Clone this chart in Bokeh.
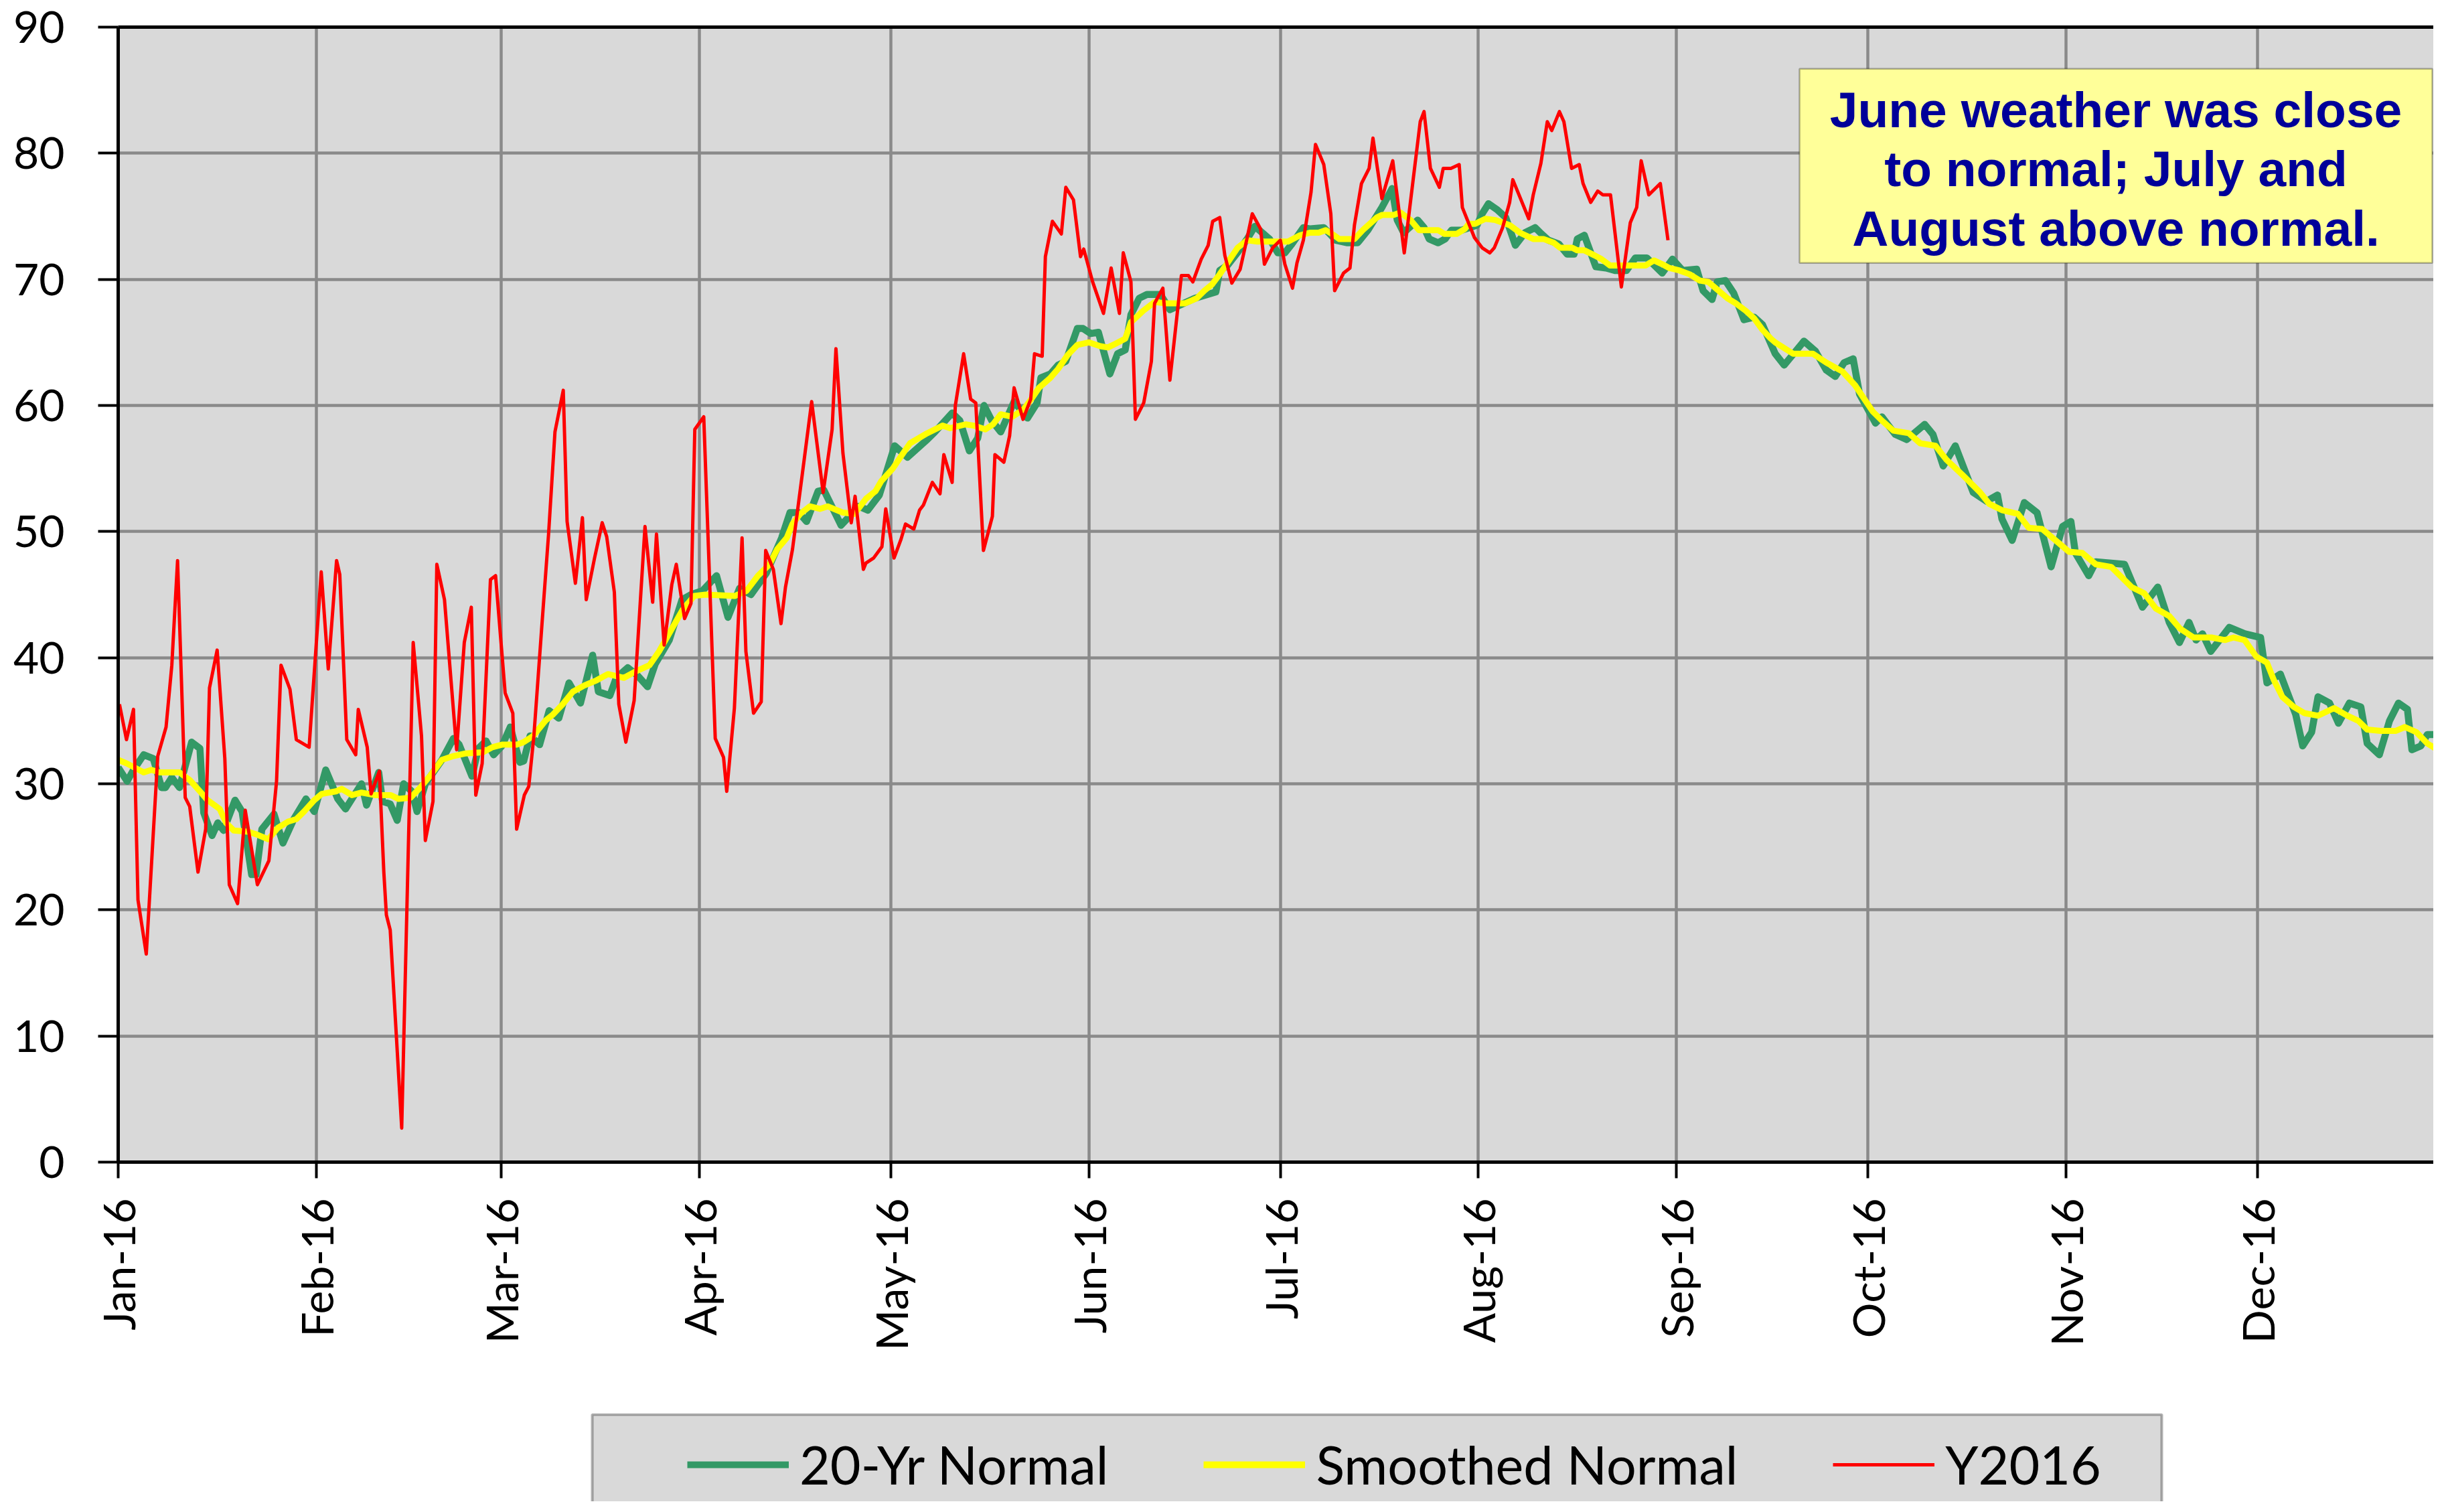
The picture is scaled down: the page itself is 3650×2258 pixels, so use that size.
import math
from bokeh.plotting import figure
from bokeh.layouts import column
from bokeh.models import (Range1d, FixedTicker, LinearAxis, Legend, LegendItem,
                          BoxAnnotation, Label, ColumnDataSource)
from bokeh.embed import file_html
from bokeh.resources import INLINE

# ---------------- data (day of year 2016, 0 = Jan 1) ----------------
month_days = [0, 31, 60, 91, 121, 152, 182, 213, 244, 274, 305, 335]
month_labels = ["Jan-16", "Feb-16", "Mar-16", "Apr-16", "May-16", "Jun-16",
                "Jul-16", "Aug-16", "Sep-16", "Oct-16", "Nov-16", "Dec-16"]
y_ticks = [0, 10, 20, 30, 40, 50, 60, 70, 80, 90]
series_names = ["20-Yr Normal", "Smoothed Normal", "Y2016"]

normal_day = [0, 1.4, 2.4, 4.0, 5.5, 6.8, 7.4, 8.4, 9.6, 11.5, 12.8, 13.4, 14.7, 15.6, 16.5,
              18.3, 19.4, 20.9, 21.6, 22.5, 24.4, 25.8, 27.5, 29.4, 30.7, 32.5, 34.4, 35.6,
              38.1, 38.9, 40.8, 41.4, 42.6, 43.7, 44.7, 46.0, 46.8, 48.1, 50.7, 52.5, 53.4,
              55.4, 56.4, 57.6, 58.8, 60.1, 61.4, 62.9, 63.5, 64.5, 66.0, 67.5, 69.0, 70.6,
              72.4, 74.3, 75.2, 77.0, 78.0, 79.8, 81.3, 82.9, 84.1, 86.3, 88.3, 89.7, 91.5,
              93.7, 95.5, 97.3, 99.1, 101.5, 103.9, 105.2, 106.6, 107.8, 109.6, 110.5, 113.2,
              116.0, 117.4, 119.2, 121.6, 123.6, 126.7, 127.9, 130.6, 131.8, 133.3, 134.6,
              135.6, 136.8, 138.2, 140.3, 142.4, 143.9, 144.5, 146.0, 147.2, 148.4, 150.2,
              151.1, 152.3, 153.5, 155.3, 156.5, 157.7, 158.6, 159.9, 161.1, 163.2, 164.7,
              168.6, 171.9, 172.5, 173.7, 175.4, 176.8, 178.0, 180.3, 181.6, 182.7, 183.8,
              185.6, 186.7, 188.8, 190.7, 192.5, 194.1, 195.7, 197.9, 199.5, 200.3, 201.3,
              203.5, 204.5, 205.3, 206.7, 207.8, 208.8, 210.4, 212.8, 213.6, 214.6, 216.0,
              217.3, 218.8, 220.3, 221.9, 222.9, 224.0, 225.6, 226.9, 228.0, 228.5, 229.6,
              231.4, 233.0, 234.4, 236.2, 237.6, 239.4, 241.8, 243.4, 245.0, 247.2, 248.2,
              249.6, 250.4, 251.7, 253.0, 254.6, 256.2, 257.5, 259.5, 260.9, 264.0, 265.8,
              267.5, 268.9, 270.3, 271.7, 272.7, 275.2, 276.2, 278.3, 280.1, 282.9, 284.2,
              285.8, 287.7, 290.5, 292.6, 294.3, 295.0, 296.6, 298.5, 300.5, 302.7, 304.5,
              305.8, 306.5, 308.6, 309.7, 314.2, 317.0, 319.4, 321.2, 322.8, 324.3, 325.4,
              326.4, 327.7, 330.6, 333.0, 335.5, 336.5, 338.6, 341.0, 342.1, 343.5, 344.5,
              346.3, 347.7, 349.4, 351.2, 352.2, 354.1, 355.7, 357.1, 358.5, 359.2, 360.6,
              361.6, 363.2]
normal_val = [31.3, 30.2, 31.1, 32.3, 32.0, 29.7, 29.7, 30.5, 29.7, 33.3, 32.8, 27.7, 25.9, 26.9,
              26.3, 28.7, 27.8, 22.8, 22.8, 26.4, 27.6, 25.3, 27.2, 28.8, 27.8, 31.1, 28.8,
              28.0, 30.0, 28.3, 30.9, 28.6, 28.4, 27.1, 30.0, 29.4, 27.8, 30.0, 31.9, 33.6,
              33.1, 30.6, 32.8, 33.4, 32.3, 33.0, 34.5, 31.7, 31.8, 33.8, 33.1, 35.8, 35.2,
              38.0, 36.4, 40.2, 37.3, 37.0, 38.4, 39.2, 38.6, 37.7, 39.5, 41.4, 44.6, 45.0,
              45.3, 46.5, 43.2, 45.5, 45.0, 46.7, 49.5, 51.5, 51.5, 50.8, 53.2, 53.3, 50.5,
              52.0, 51.7, 52.9, 56.8, 55.9, 57.3, 57.9, 59.4, 58.8, 56.4, 57.4, 60.0, 58.8,
              57.9, 60.3, 59.0, 60.2, 62.2, 62.5, 63.2, 63.5, 66.1, 66.1, 65.7, 65.8, 62.5,
              64.1, 64.4, 67.2, 68.5, 68.8, 68.8, 67.6, 68.5, 69.0, 70.7, 71.1, 72.2, 73.2,
              74.2, 73.2, 72.1, 72.1, 72.8, 74.1, 74.0, 74.1, 73.1, 72.9, 72.9, 73.9, 75.7,
              77.2, 74.7, 73.7, 74.7, 74.1, 73.2, 72.9, 73.2, 73.9, 73.9, 74.3, 75.2, 76.0,
              75.5, 74.9, 72.7, 73.7, 74.1, 73.6, 73.1, 72.8, 72.0, 72.0, 73.2, 73.5, 71.0,
              70.9, 70.7, 70.7, 71.7, 71.7, 70.5, 71.6, 70.7, 70.8, 69.1, 68.4, 69.8, 69.9,
              68.9, 66.8, 67.0, 66.4, 64.1, 63.2, 65.1, 64.3, 62.8, 62.3, 63.4, 63.7, 60.9,
              58.6, 59.1, 57.7, 57.3, 58.5, 57.7, 55.2, 56.8, 53.1, 52.4, 52.9, 51.0, 49.3,
              52.3, 51.5, 47.2, 50.4, 50.8, 48.3, 46.5, 47.6, 47.4, 44.0, 45.6, 42.8, 41.2,
              42.8, 41.4, 41.9, 40.5, 42.4, 41.9, 41.6, 38.0, 38.7, 35.5, 33.0, 34.1, 36.9,
              36.4, 34.8, 36.4, 36.1, 33.2, 32.3, 35.0, 36.4, 35.9, 32.7, 33.0, 33.9, 33.9]

smooth_day = [0, 1.4, 4.0, 5.2, 6.5, 9.6, 11.2, 12.8, 14.0, 15.9, 16.9, 18.1, 20.3, 21.6, 23.5,
              25.0, 26.6, 27.9, 29.1, 30.7, 31.9, 34.1, 35.0, 36.6, 38.1, 40.2, 42.7, 43.9,
              45.8, 47.3, 48.8, 50.7, 52.5, 54.3, 57.1, 58.6, 60.1, 62.4, 63.5, 65.0, 66.9,
              68.1, 69.6, 71.2, 73.0, 74.9, 76.7, 79.2, 81.0, 83.2, 84.7, 86.6, 88.4, 90.2,
              92.0, 96.6, 98.4, 100.2, 102.0, 103.2, 104.7, 105.6, 106.8, 108.3, 109.9, 111.1,
              113.5, 115.3, 117.1, 118.6, 119.5, 121.3, 122.5, 124.0, 126.7, 129.1, 130.3,
              132.7, 134.0, 135.8, 137.0, 138.2, 140.0, 141.8, 143.0, 144.2, 146.0, 147.2,
              148.7, 150.2, 152.0, 153.8, 155.0, 156.2, 157.7, 158.6, 160.5, 162.3, 164.1,
              167.1, 168.9, 170.1, 171.3, 172.5, 173.7, 175.3, 176.8, 178.4, 183.2, 185.1,
              186.7, 188.0, 189.1, 190.4, 191.2, 193.6, 194.9, 197.1, 197.9, 199.7, 200.8,
              202.4, 203.7, 206.7, 207.7, 209.6, 210.9, 211.5, 212.5, 214.1, 215.7, 217.9,
              219.5, 221.6, 223.2, 224.8, 225.8, 227.7, 228.5, 229.6, 231.2, 232.3, 233.6,
              239.2, 240.5, 241.8, 242.9, 244.5, 246.1, 247.7, 249.0, 250.4, 252.0, 253.3,
              254.9, 256.2, 257.5, 258.8, 259.5, 262.3, 265.4, 267.5, 270.0, 272.0, 274.8,
              276.2, 278.0, 280.4, 282.2, 284.6, 286.3, 288.8, 291.6, 293.0, 295.0, 297.5,
              299.2, 301.3, 303.4, 305.5, 307.6, 309.7, 312.1, 315.3, 317.3, 319.1, 321.2,
              322.9, 325.0, 327.8, 329.9, 331.3, 333.0, 334.8, 336.5, 337.6, 338.9, 340.7,
              342.4, 344.5, 347.0, 349.1, 350.8, 352.2, 354.3, 356.7, 358.1, 359.9, 361.6,
              363.2]
smooth_val = [31.9, 31.6, 30.9, 31.1, 30.9, 30.9, 30.3, 29.4, 28.7, 28.0, 26.9, 26.3, 26.2, 26.0,
              25.6, 26.5, 27.0, 27.2, 27.8, 28.7, 29.2, 29.4, 29.6, 29.1, 29.3, 29.1, 29.1,
              28.8, 28.9, 29.7, 30.6, 31.9, 32.2, 32.4, 32.5, 32.9, 33.1, 33.1, 33.3, 33.8,
              35.0, 35.5, 36.3, 37.3, 37.8, 38.2, 38.7, 38.4, 38.9, 39.4, 40.5, 42.2, 43.8,
              44.9, 45.0, 44.9, 45.3, 46.5, 47.4, 48.6, 49.5, 50.6, 51.4, 52.0, 51.8, 52.0,
              51.5, 51.4, 52.6, 53.2, 54.0, 55.0, 55.9, 57.0, 57.8, 58.4, 58.2, 58.5, 58.4,
              58.1, 58.5, 59.3, 59.1, 59.7, 60.5, 61.4, 62.2, 62.9, 64.0, 64.8, 65.0, 64.7,
              64.6, 64.9, 65.3, 66.6, 67.5, 68.2, 68.1, 68.1, 68.5, 69.1, 69.6, 70.4, 71.3,
              72.5, 73.1, 73.0, 73.0, 73.5, 73.7, 73.7, 73.9, 73.5, 73.2, 73.2, 73.9, 74.9,
              75.1, 75.1, 75.3, 74.7, 73.9, 73.9, 73.6, 73.6, 74.0, 74.4, 74.4, 74.8, 74.7,
              74.3, 73.7, 73.2, 73.2, 72.9, 72.5, 72.5, 72.3, 72.3, 71.9, 71.6, 71.1, 71.1,
              71.5, 71.2, 70.9, 70.7, 70.4, 69.9, 69.8, 69.2, 68.5, 68.1, 67.5, 66.9, 66.0,
              65.3, 65.0, 64.1, 64.1, 63.4, 62.7, 61.6, 59.5, 58.8, 58.0, 57.8, 57.0, 56.8,
              55.7, 54.5, 53.1, 52.2, 51.7, 51.4, 50.3, 50.2, 49.3, 48.4, 48.3, 47.4, 47.2,
              45.6, 45.1, 43.9, 43.3, 42.3, 41.6, 41.6, 41.4, 41.6, 41.4, 40.1, 39.6, 38.2,
              36.9, 36.1, 35.6, 35.4, 36.0, 35.4, 35.0, 34.3, 34.2, 34.2, 34.5, 34.1, 33.2,
              32.7]

y2016_day = [0.2, 1.3, 2.4, 3.1, 4.4, 6.2, 7.5, 8.4, 9.3, 10.5, 11.2, 12.5, 13.7, 14.3, 15.5,
             16.7, 17.4, 18.7, 19.9, 21.8, 23.6, 24.8, 25.5, 26.9, 27.9, 29.9, 31.8, 32.9,
             34.2, 34.7, 35.8, 37.2, 37.6, 39.0, 39.6, 40.9, 41.6, 42.0, 42.6, 44.4, 46.2,
             47.5, 48.1, 49.3, 49.9, 51.1, 53.0, 54.2, 55.3, 56.0, 57.0, 58.3, 59.1, 60.6,
             61.8, 62.4, 63.6, 64.3, 65.1, 66.3, 67.4, 68.4, 69.7, 70.3, 71.6, 72.7, 73.3,
             74.6, 75.8, 76.5, 77.7, 78.4, 79.5, 80.8, 82.5, 83.7, 84.3, 85.5, 86.7, 87.4,
             88.7, 89.7, 90.3, 91.7, 93.5, 94.8, 95.3, 96.5, 97.7, 98.3, 99.5, 100.7, 101.4,
             102.6, 103.8, 104.5, 105.6, 107.3, 108.6, 110.4, 111.8, 112.4, 113.5, 114.8,
             115.4, 116.7, 117.1, 118.3, 119.6, 120.2, 121.5, 122.6, 123.3, 124.6, 125.5,
             126.1, 127.5, 128.7, 129.3, 130.6, 131.1, 132.4, 133.5, 134.3, 135.5, 136.9,
             137.3, 138.7, 139.6, 140.3, 141.7, 142.9, 143.5, 144.7, 145.2, 146.3, 147.7,
             148.4, 149.6, 150.7, 151.2, 152.6, 154.3, 155.5, 156.8, 157.4, 158.6, 159.3,
             160.6, 161.8, 162.3, 163.6, 164.7, 166.5, 167.6, 168.3, 169.6, 170.7, 171.4,
             172.5, 173.3, 174.4, 175.7, 176.5, 177.6, 178.9, 179.5, 180.8, 182.0, 182.7,
             183.9, 184.6, 185.6, 186.8, 187.5, 188.8, 189.9, 190.5, 191.9, 192.9, 193.6,
             194.7, 195.9, 196.5, 197.9, 199.6, 201.4, 203.9, 204.5, 205.5, 206.9, 207.5,
             208.7, 210.0, 210.5, 212.4, 213.6, 214.8, 215.5, 216.8, 217.9, 218.4, 220.9,
             221.6, 222.8, 223.8, 224.5, 225.7, 226.4, 227.6, 228.8, 229.4, 230.6, 231.7,
             232.5, 233.7, 235.4, 236.8, 237.8, 238.5, 239.7, 241.5, 242.7]
y2016_val = [36.3, 33.5, 35.9, 20.8, 16.5, 32.2, 34.5, 39.4, 47.7, 28.9, 28.2, 23.0, 26.4, 37.6,
             40.6, 32.0, 22.0, 20.5, 27.9, 22.0, 23.9, 30.2, 39.4, 37.5, 33.5, 32.9, 46.8,
             39.1, 47.7, 46.6, 33.5, 32.3, 35.9, 32.9, 29.2, 31.0, 23.0, 19.6, 18.4, 2.7,
             41.2, 33.8, 25.5, 28.6, 47.4, 44.6, 32.7, 41.2, 44.0, 29.1, 31.6, 46.2, 46.5,
             37.2, 35.6, 26.4, 29.1, 29.8, 33.8, 42.2, 49.8, 57.9, 61.2, 50.8, 45.9, 51.1,
             44.6, 47.9, 50.7, 49.6, 45.2, 36.3, 33.3, 36.6, 50.4, 44.4, 49.8, 41.0, 45.8,
             47.4, 43.1, 44.3, 58.1, 59.1, 33.6, 32.1, 29.4, 36.0, 49.5, 40.5, 35.6, 36.5,
             48.5, 47.0, 42.7, 45.6, 48.6, 55.2, 60.3, 53.1, 58.1, 64.5, 56.2, 50.7, 52.8,
             47.0, 47.5, 47.9, 48.8, 51.8, 47.9, 49.4, 50.6, 50.2, 51.7, 52.1, 53.9, 53.0,
             56.1, 53.9, 60.0, 64.1, 60.5, 60.2, 48.5, 51.2, 56.1, 55.5, 57.6, 61.4, 58.9,
             60.5, 64.1, 63.9, 71.8, 74.6, 73.6, 77.3, 76.3, 71.8, 72.4, 69.8, 67.3, 70.9,
             67.3, 72.1, 69.8, 58.9, 60.2, 63.5, 68.1, 69.3, 62.0, 70.3, 70.3, 69.8, 71.6,
             72.7, 74.6, 74.9, 71.9, 69.7, 70.8, 72.6, 75.2, 74.0, 71.2, 72.5, 73.1, 71.2,
             69.3, 71.3, 73.1, 76.9, 80.7, 79.1, 75.2, 69.1, 70.5, 70.9, 74.3, 77.6, 78.8,
             81.2, 76.4, 79.4, 72.1, 82.5, 83.3, 78.8, 77.3, 78.8, 78.8, 79.1, 75.7, 73.3,
             72.5, 72.1, 72.5, 74.1, 76.1, 77.9, 74.8, 76.7, 79.2, 82.5, 81.8, 83.3, 82.5,
             78.8, 79.1, 77.6, 76.1, 77.0, 76.7, 76.7, 69.4, 74.5, 75.7, 79.4, 76.7, 77.6,
             73.1]

GREEN, YELLOW, RED = "#339966", "#ffff00", "#ff0000"
AX_FONT = "Lato"
GRID = "#8a8a8a"
W = 3634

src_normal = ColumnDataSource(dict(day=normal_day, val=normal_val))
src_smooth = ColumnDataSource(dict(day=smooth_day, val=smooth_val))
src_y2016 = ColumnDataSource(dict(day=y2016_day, val=y2016_val))

# ---------------- main figure ----------------
p = figure(width=W, height=2110, output_backend="svg", toolbar_location=None,
           x_range=Range1d(0, 362.6), y_range=Range1d(0, 90),
           min_border_left=176, min_border_top=40, min_border_bottom=375,
           min_border_right=0, background_fill_color="#d9d9d9",
           border_fill_color="white", outline_line_color=None)

xa = p.xaxis[0]
xa.ticker = FixedTicker(ticks=month_days)
xa.major_label_overrides = {d: l for d, l in zip(month_days, month_labels)}
xa.major_label_orientation = math.pi / 2
xa.major_label_text_font = AX_FONT
xa.major_label_text_font_size = "66px"
xa.major_label_text_color = "black"
xa.major_label_standoff = 30
xa.axis_line_width = 5
xa.axis_line_color = "black"
xa.major_tick_in = 0
xa.major_tick_out = 24
xa.major_tick_line_width = 4
xa.minor_tick_line_color = None

ya = p.yaxis[0]
ya.ticker = FixedTicker(ticks=y_ticks)
ya.major_label_text_font = AX_FONT
ya.major_label_text_font_size = "66px"
ya.major_label_text_color = "black"
ya.major_label_standoff = 50
ya.axis_line_width = 5
ya.axis_line_color = "black"
ya.major_tick_in = 0
ya.major_tick_out = 30
ya.major_tick_line_width = 4
ya.minor_tick_line_color = None

top_ax = LinearAxis(ticker=FixedTicker(ticks=[]), axis_line_width=5,
                    axis_line_color="black", major_tick_line_color=None,
                    minor_tick_line_color=None, major_label_text_font_size="0px")
p.add_layout(top_ax, "above")

p.xgrid.grid_line_color = GRID
p.xgrid.grid_line_width = 4.5
p.ygrid.grid_line_color = GRID
p.ygrid.grid_line_width = 4.5
p.ygrid.ticker = FixedTicker(ticks=y_ticks)

p.line("day", "val", source=src_normal, line_color=GREEN, line_width=10.5, line_join="round")
p.line("day", "val", source=src_smooth, line_color=YELLOW, line_width=9, line_join="round")
p.line("day", "val", source=src_y2016, line_color=RED, line_width=5, line_join="round")

note_box = BoxAnnotation(left=263.3, right=362.4, top=86.7, bottom=71.3,
                         fill_color="#ffff99", fill_alpha=1.0,
                         line_color="black", line_width=2.5, level="annotation")
p.add_layout(note_box)
note = Label(x=312.85, y=78.75,
             text="June weather was close\nto normal; July and\nAugust above normal.",
             text_align="center", text_baseline="middle", text_font="Liberation Sans",
             text_font_style="bold", text_font_size="75px", text_color="#000099",
             text_line_height=1.05)
p.add_layout(note)

# ---------------- legend strip (same frame borders as the main figure) ----------------
# y range lies below all temperatures, so the series themselves stay out of view here
p2 = figure(width=W, height=132, output_backend="svg", toolbar_location=None,
            x_range=Range1d(0, 3458), y_range=Range1d(-140, -8),
            min_border_left=176, min_border_right=0, min_border_top=0,
            min_border_bottom=0, x_axis_location=None, y_axis_location=None,
            background_fill_color="white", border_fill_color="white",
            outline_line_color=None)
p2.grid.visible = False
leg_box = BoxAnnotation(left=708, right=3052, top=-10, bottom=-400,
                        fill_color="#d9d9d9", fill_alpha=1.0,
                        line_color="black", line_width=4)
p2.add_layout(leg_box)

lg = p2.line("day", "val", source=src_normal, line_color=GREEN, line_width=10)
ly = p2.line("day", "val", source=src_smooth, line_color=YELLOW, line_width=10)
lr = p2.line("day", "val", source=src_y2016, line_color=RED, line_width=5)
legend = Legend(items=[LegendItem(label=series_names[0], renderers=[lg]),
                       LegendItem(label=series_names[1], renderers=[ly]),
                       LegendItem(label=series_names[2], renderers=[lr])],
                orientation="horizontal", location=(850, 8),
                glyph_width=152, glyph_height=80, label_standoff=16, spacing=142,
                padding=0, margin=0, border_line_color=None, background_fill_alpha=0.0,
                label_text_font=AX_FONT, label_text_font_size="79px",
                label_text_color="black", label_height=80)
p2.add_layout(legend)

layout = column(p, p2, spacing=0)
open("out.html", "w").write(file_html(layout, INLINE))
